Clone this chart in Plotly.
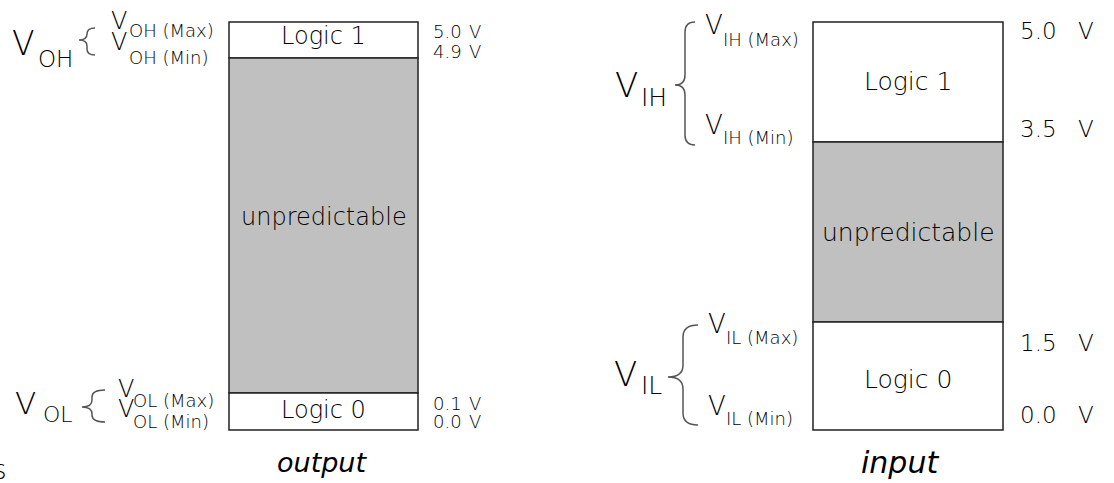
import plotly.graph_objects as go

# ---- data ----
band_labels = ["Logic 1", "unpredictable", "Logic 0"]
output_volts = [5.0, 4.9, 0.1, 0.0]
input_volts = [5.0, 3.5, 1.5, 0.0]
output_limits = ["OH (Max)", "OH (Min)", "OL (Max)", "OL (Min)"]
input_limits = ["IH (Max)", "IH (Min)", "IL (Max)", "IL (Min)"]
output_groups = ["OH", "OL"]
input_groups = ["IH", "IL"]
output_title = "output"
input_title = "input"
unit = "V"

# ---- layout constants (pixel-space schematic) ----
W, H = 1114, 483
FONT = "DejaVu Sans"
INK = "#000000"
LINE = "#222222"
BRACE = "#555555"
FILLS = ["white", "#c0c0c0", "white"]

OUT_CX, OUT_W = 323.5, 189
IN_CX, IN_W = 908, 190
OUT_EDGES = [22, 58, 393, 430]
IN_EDGES = [22, 142, 322, 430]

fig = go.Figure()


def bands(cx, width, edges):
    for i in range(len(band_labels)):
        fig.add_trace(go.Bar(
            x=[cx], y=[edges[i + 1] - edges[i]], base=[edges[i]], width=[width],
            marker=dict(color=FILLS[i], line=dict(color=LINE, width=1.5)),
            hoverinfo="skip", showlegend=False))


def txt(x, y, s, size, anchor="left", italic=False):
    fig.add_annotation(
        x=x, y=y, xref="x", yref="y", text=s, showarrow=False,
        xanchor=anchor, yanchor="middle", borderpad=0,
        font=dict(family=FONT, size=size, color=INK, weight=300,
                  style="italic" if italic else "normal"))


def brace(xt, xm, xp, y0, yp, y1, r):
    path = (f"M {xt},{y0} Q {xm},{y0} {xm},{y0 + r} L {xm},{yp - r} "
            f"Q {xm},{yp} {xp},{yp} Q {xm},{yp} {xm},{yp + r} "
            f"L {xm},{y1 - r} Q {xm},{y1} {xt},{y1}")
    fig.add_shape(type="path", path=path, xref="x", yref="y",
                  line=dict(color=BRACE, width=1.5))


# boxes
bands(OUT_CX, OUT_W, OUT_EDGES)
bands(IN_CX, IN_W, IN_EDGES)

# band labels
out_label_y = [36, 217, 410]
in_label_y = [81, 232, 379]
for lab, y in zip(band_labels, out_label_y):
    txt(OUT_CX, y, lab, 24, anchor="center")
for lab, y in zip(band_labels, in_label_y):
    txt(IN_CX, y, lab, 25, anchor="center")

# voltage labels
out_volt_y = [31, 51, 403, 421]
for v, y in zip(output_volts, out_volt_y):
    txt(432, y, f"{v:.1f}", 18)
    txt(468, y, unit, 18)
in_volt_y = [31, 129, 343, 415]
for v, y in zip(input_volts, in_volt_y):
    txt(1019, y, f"{v:.1f}", 23)
    txt(1077, y, unit, 23)

# output side limit labels
out_v_pos = [(110, 21, 128, 30), (110, 42, 128, 57), (117, 389, 132, 400), (117, 409, 132, 421)]
for lab, (vx, vy, sx, sy) in zip(output_limits, out_v_pos):
    txt(vx, vy, "V", 24)
    txt(sx, sy, lab, 18)

# input side limit labels
in_v_pos = [(704, 25, 722, 39), (704, 125, 722, 137), (707, 324, 725, 337), (707, 406, 725, 418)]
for lab, (vx, vy, sx, sy) in zip(input_limits, in_v_pos):
    txt(vx, vy, "V", 26)
    txt(sx, sy, lab, 18)

# group labels
out_group_pos = [(11, 43.5, 37, 58.5, 33, 23), (14, 403, 42, 414.5, 31, 22)]
for g, (vx, vy, sx, sy, vs, ss) in zip(output_groups, out_group_pos):
    txt(vx, vy, "V", vs)
    txt(sx, sy, g, ss)
in_group_pos = [(614, 85, 640, 97, 34, 25), (613, 374, 640, 385, 34, 25)]
for g, (vx, vy, sx, sy, vs, ss) in zip(input_groups, in_group_pos):
    txt(vx, vy, "V", vs)
    txt(sx, sy, g, ss)

# braces
brace(95, 87, 79, 28, 40, 55, 6)
brace(105, 92, 82, 390, 407, 422, 7)
brace(695, 685, 675, 22, 85, 145, 10)
brace(698, 683, 668, 325, 377, 425, 12)

# titles
txt(322, 462, output_title, 27, anchor="center", italic=True)
txt(900, 462, input_title, 30, anchor="center", italic=True)
txt(8, 470, "s", 26, anchor="right")

fig.update_layout(
    width=W, height=H, margin=dict(l=0, r=0, t=0, b=0),
    paper_bgcolor="white", plot_bgcolor="white", barmode="overlay",
    xaxis=dict(range=[0, W], visible=False, fixedrange=True),
    yaxis=dict(range=[H, 0], visible=False, fixedrange=True),
    showlegend=False,
)

fig.write_html("out.html", config={"displayModeBar": False},
               post_script="document.body.style.margin='0';document.body.style.overflow='hidden';")
